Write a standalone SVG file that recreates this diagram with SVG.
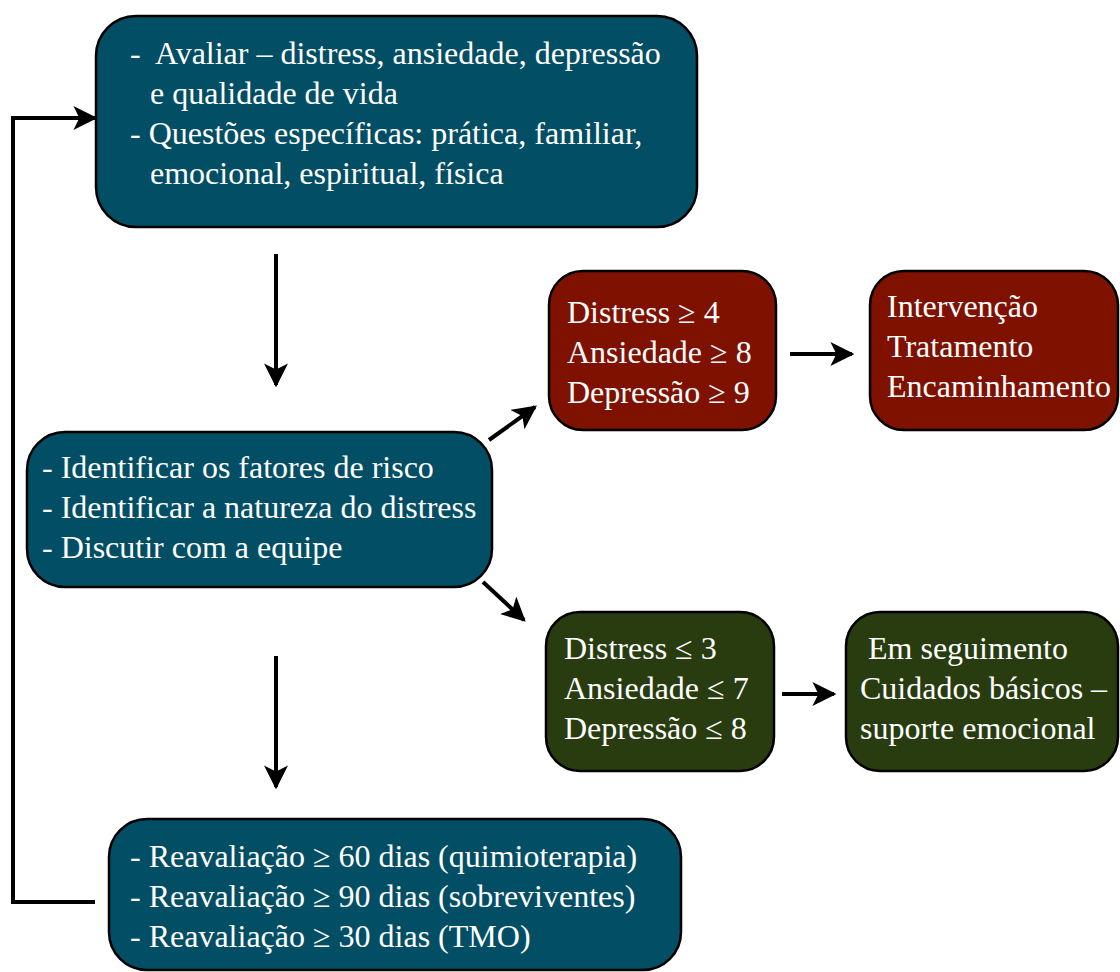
<svg xmlns="http://www.w3.org/2000/svg" width="1120" height="972" viewBox="0 0 1120 972">
  <style>
    .box { stroke: #000; stroke-width: 2.5; }
    .blue { fill: #024e64; }
    .red { fill: #7f1100; }
    .green { fill: #283c10; }
    text { font-family: "Liberation Serif", "Times New Roman", serif; font-size: 32px; fill: #fff; }
    .conn { stroke: #000; stroke-width: 4; fill: none; }
  </style>
  <defs>
    <marker id="head" viewBox="0 0 10 10" refX="9" refY="5" markerWidth="6" markerHeight="6" orient="auto" markerUnits="strokeWidth">
      <path d="M0,0 L10,5 L0,10 L2.5,5 Z" fill="#000"/>
    </marker>
  </defs>

  <rect width="1120" height="972" fill="#fff"/>

  <g id="connectors">
    <line class="conn" x1="276" y1="254" x2="276" y2="385" marker-end="url(#head)"/>
    <line class="conn" x1="276" y1="656" x2="276" y2="787" marker-end="url(#head)"/>
    <line class="conn" x1="489" y1="440" x2="535" y2="407" marker-end="url(#head)"/>
    <line class="conn" x1="483" y1="582" x2="524" y2="620" marker-end="url(#head)"/>
    <line class="conn" x1="790" y1="354" x2="852" y2="354" marker-end="url(#head)"/>
    <line class="conn" x1="782" y1="694" x2="834" y2="694" marker-end="url(#head)"/>
    <polyline class="conn" points="95,902 13,902 13,118 95,118" marker-end="url(#head)"/>
  </g>

  <g id="avaliar">
    <rect class="box blue" x="96" y="16" width="601" height="211" rx="40"/>
    <text x="130" y="64" xml:space="preserve">-  Avaliar – distress, ansiedade, depressão</text>
    <text x="150" y="104">e qualidade de vida</text>
    <text x="130" y="144">- Questões específicas: prática, familiar,</text>
    <text x="150" y="184">emocional, espiritual, física</text>
  </g>

  <g id="identificar">
    <rect class="box blue" x="27" y="432" width="465" height="155" rx="38"/>
    <text x="42" y="478">- Identificar os fatores de risco</text>
    <text x="42" y="518">- Identificar a natureza do distress</text>
    <text x="42" y="558">- Discutir com a equipe</text>
  </g>

  <g id="alto">
    <rect class="box red" x="549" y="271" width="227" height="159" rx="34"/>
    <text x="567" y="323">Distress ≥ 4</text>
    <text x="567" y="363">Ansiedade ≥ 8</text>
    <text x="567" y="403">Depressão ≥ 9</text>
  </g>

  <g id="intervencao">
    <rect class="box red" x="870" y="271" width="248" height="159" rx="34"/>
    <text x="887" y="317">Intervenção</text>
    <text x="887" y="357">Tratamento</text>
    <text x="887" y="397">Encaminhamento</text>
  </g>

  <g id="baixo">
    <rect class="box green" x="546" y="612" width="228" height="159" rx="34"/>
    <text x="564" y="659">Distress ≤ 3</text>
    <text x="564" y="699">Ansiedade ≤ 7</text>
    <text x="564" y="739">Depressão ≤ 8</text>
  </g>

  <g id="seguimento">
    <rect class="box green" x="846" y="612" width="272" height="159" rx="34"/>
    <text x="860" y="659" xml:space="preserve"> Em seguimento</text>
    <text x="860" y="699">Cuidados básicos –</text>
    <text x="860" y="739">suporte emocional</text>
  </g>

  <g id="reavaliacao">
    <rect class="box blue" x="109" y="819" width="572" height="151" rx="38"/>
    <text x="130" y="867">- Reavaliação ≥ 60 dias (quimioterapia)</text>
    <text x="130" y="907">- Reavaliação ≥ 90 dias (sobreviventes)</text>
    <text x="130" y="947">- Reavaliação ≥ 30 dias (TMO)</text>
  </g>
</svg>
